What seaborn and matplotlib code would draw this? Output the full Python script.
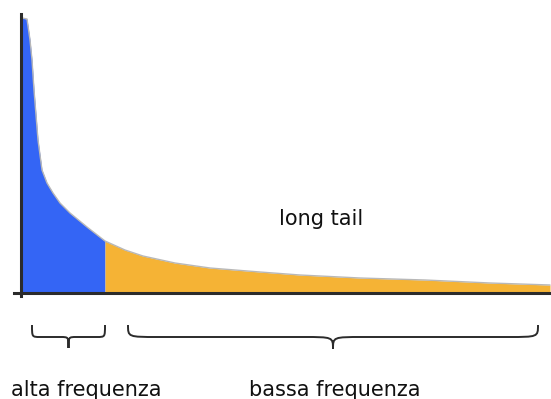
import numpy as np
import pandas as pd
import matplotlib
matplotlib.use("Agg")
import matplotlib.pyplot as plt
from matplotlib.path import Path
from matplotlib.patches import PathPatch
import seaborn as sns

# Data (rank vs. frequency)
rank = [1, 6, 9, 11, 13, 15, 17, 21, 26, 32, 39, 49, 66, 84, 104, 122, 154,
        189, 239, 279, 339, 404, 469, 529]
freq = [275, 274, 253, 233, 203, 178, 153, 123, 110, 100, 90, 80, 66, 52, 43,
        37, 30, 25, 21, 18, 15, 13, 10, 8]
split_rank = 84
head_label = "alta frequenza"
tail_label = "bassa frequenza"
title_label = "long tail"

BLUE = "#3465F5"
ORANGE = "#F5B335"
DARK = "#2b2b2b"

sns.set_style("white")
plt.rcParams["font.family"] = ["DejaVu Sans"]

df = pd.DataFrame({"rank": rank, "freq": freq})

fig = plt.figure(figsize=(5.51, 3.99), dpi=100)
ax = fig.add_axes([0, 0, 1, 1])
ax.set_xlim(-21, 530)
ax.set_ylim(-106, 293)

head = df[df["rank"] <= split_rank]
tail = df[df["rank"] >= split_rank]
ax.fill_between(head["rank"], 0, head["freq"], color=BLUE, linewidth=0, zorder=2)
ax.fill_between(tail["rank"], 0, tail["freq"], color=ORANGE, linewidth=0, zorder=2)
sns.lineplot(data=df, x="rank", y="freq", ax=ax, color="#b8b8b8", linewidth=1.0,
             zorder=3, legend=False)

# axes lines via spines
for s in ["top", "right"]:
    ax.spines[s].set_visible(False)
ax.spines["left"].set_position(("data", 0))
ax.spines["bottom"].set_position(("data", 0))
ax.spines["left"].set_bounds(-3, 279)
ax.spines["bottom"].set_bounds(-7, 530)
for s in ["left", "bottom"]:
    ax.spines[s].set_color(DARK)
    ax.spines[s].set_linewidth(2.2)
    ax.spines[s].set_zorder(4)
ax.set_xticks([])
ax.set_yticks([])
ax.set_xlabel("")
ax.set_ylabel("")


def brace(x0, x1, ytop, yline, ytip, r):
    xc = (x0 + x1) / 2
    verts = [
        (x0, ytop), (x0, yline), (x0, yline), (x0 + r, yline),
        (xc - r, yline),
        (xc, yline), (xc, yline), (xc, ytip),
        (xc, yline), (xc, yline), (xc + r, yline),
        (x1 - r, yline),
        (x1, yline), (x1, yline), (x1, ytop),
    ]
    codes = [Path.MOVETO, Path.CURVE4, Path.CURVE4, Path.CURVE4,
             Path.LINETO,
             Path.CURVE4, Path.CURVE4, Path.CURVE4,
             Path.CURVE4, Path.CURVE4, Path.CURVE4,
             Path.LINETO,
             Path.CURVE4, Path.CURVE4, Path.CURVE4]
    ax.add_patch(PathPatch(Path(verts, codes), fill=False, edgecolor=DARK,
                           linewidth=1.4, zorder=3))


# y = 293 - py ; x = px - 21
brace(32 - 21, 105 - 21, 293 - 325, 293 - 337, 293 - 348, 8)
brace(128 - 21, 538 - 21, 293 - 325, 293 - 337, 293 - 349, 30)

ax.text(86 - 21, 293 - 396, head_label, ha="center", va="baseline",
        fontsize=15, color="#111111")
ax.text(335 - 21, 293 - 396, tail_label, ha="center", va="baseline",
        fontsize=15, color="#111111")
ax.text(321 - 21, 293 - 225, title_label, ha="center", va="baseline",
        fontsize=15, color="#111111")

fig.savefig("out.png", dpi=100)
